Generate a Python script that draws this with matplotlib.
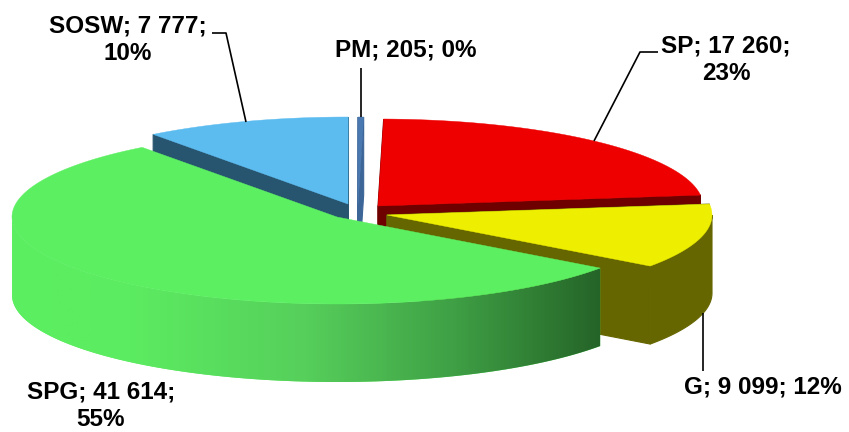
#!/usr/bin/env python3
# -*- coding: utf-8 -*-
"""
Exploded 3D style pie, drawn by hand because matplotlib has no 3D pie
"""
import matplotlib
matplotlib.use("Agg")
import matplotlib.pyplot as plt
from matplotlib.colors import LinearSegmentedColormap
from matplotlib.patches import Polygon
import numpy as np

names = ["SP", "G", "SPG", "SOSW", "PM"]
values = [17260, 9099, 41614, 7777, 205]

# look of the pie (pixels of the 849x432 picture)
centers = [(378, 206), (387, 215), (337, 217), (348, 204), (358, 204)]
topColors = ["#ee0000", "#eeee00", "#5cef62", "#5cbcf0", "#4a78b0"]
sideColors = ["#6e0000", "#666600", "#5cef62", "#27556f", "#3c6598"]
R = 325
ky = 87
depth = 78
firstAngle = 1

plt.rcParams["font.family"] = ["Liberation Sans", "DejaVu Sans"]
fig = plt.figure(figsize=(8.49, 4.32), dpi=100)
ax = fig.add_axes([0, 0, 1, 1])


def arc(i, t0, t1):
    t = np.radians(np.linspace(t0, t1, 200))
    return np.column_stack([centers[i][0] + R*np.sin(t), centers[i][1] - ky*np.cos(t)])


def band(pts):
    # the wall below a line on the top face
    return np.vstack([pts, (pts + [0, depth])[::-1]])


total = sum(values)
edges = np.concatenate([[0], np.cumsum(values)]) * 360.0 / total + firstAngle

# back to front, SPG has to cover everything else
for i in [3, 4, 0, 1, 2]:
    t0, t1 = edges[i], edges[i+1]
    rim = arc(i, t0, t1)
    apex = np.array([centers[i]], dtype=float)
    for wall in [np.vstack([rim[:1], apex]), np.vstack([apex, rim[-1:]])]:
        if i != 2:
            ax.add_patch(Polygon(band(wall), fc=sideColors[i], ec=sideColors[i], lw=0.8))
    # outer wall, only the part facing the viewer
    if t0 < 270 and t1 > 90:
        front = arc(i, max(t0, 90), min(t1, 270))
        wall = Polygon(band(front), fc=sideColors[i], ec=sideColors[i] if i != 2 else "none", lw=0.8)
        ax.add_patch(wall)
        if i == 2:
            cmap = LinearSegmentedColormap.from_list(
                "side", [(0, "#5cef62"), (0.2, "#5cec61"), (0.5, "#56cf5b"),
                         (0.75, "#3fa045"), (1, "#256428")])
            img = ax.imshow(np.linspace(0, 1, 256).reshape(1, -1), cmap=cmap,
                            extent=[front[:, 0].min(), front[:, 0].max(), 400, 200],
                            aspect="auto", zorder=wall.get_zorder()+0.1)
            img.set_clip_path(wall)
    top = Polygon(np.vstack([apex, rim]), fc=topColors[i], ec=topColors[i], lw=0.3, zorder=3)
    ax.add_patch(top)

# leader lines
leaderX = [[212, 226, 246], [361, 361], [658, 640, 594], [703, 703]]
leaderY = [[33, 33, 122], [68, 117], [52, 52, 141], [371, 313]]
for lx, ly in zip(leaderX, leaderY):
    ax.plot(lx, ly, color="black", lw=1.2, zorder=4, solid_capstyle="butt")


def amount(v):
    return f"{v:,}".replace(",", " ")


pct = [round(100*v/total) for v in values]
labelText = [
    f"SP; {amount(values[0])};\n{pct[0]}%",
    f"G; {amount(values[1])}; {pct[1]}%",
    f"SPG; {amount(values[2])};\n{pct[2]}%",
    f"SOSW; {amount(values[3])};\n{pct[3]}%",
    f"PM; {amount(values[4])}; {pct[4]}%",
]
labelX = [726, 763, 101, 128, 406]
labelY = [60, 387, 406, 40, 50]
for s, x, y in zip(labelText, labelX, labelY):
    ax.text(x, y, s, ha="center", va="center", fontsize=17.5, fontweight="bold",
            color="black", linespacing=1.25, zorder=5)

ax.set_xlim(0, 849)
ax.set_ylim(432, 0)
ax.axis("off")
fig.savefig("out.png", dpi=100)
